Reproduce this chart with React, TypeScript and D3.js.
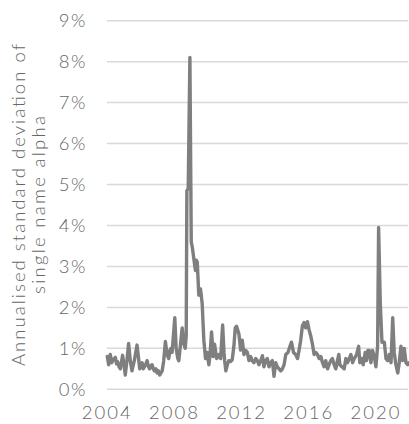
import React from "react";
import * as d3 from "d3";

const dates: number[] = [
  2004.0, 2004.08, 2004.18, 2004.26, 2004.34, 2004.48, 2004.55, 2004.61, 2004.7, 2004.78, 2004.91,
  2005.0, 2005.07, 2005.17, 2005.27, 2005.37, 2005.47, 2005.55, 2005.61, 2005.77, 2005.85, 2005.93,
  2006.0, 2006.07, 2006.14, 2006.21, 2006.3, 2006.37, 2006.45, 2006.52, 2006.6, 2006.67, 2006.74, 2006.81, 2006.9, 2006.97,
  2007.05, 2007.12, 2007.2, 2007.27, 2007.36, 2007.46, 2007.56, 2007.66, 2007.73, 2007.8, 2007.86, 2008.02,
  2008.1, 2008.2, 2008.26, 2008.36, 2008.46, 2008.56, 2008.64, 2008.7, 2008.74, 2008.82, 2008.92,
  2009.0, 2009.07, 2009.15, 2009.25, 2009.3, 2009.36, 2009.45, 2009.55, 2009.65, 2009.75, 2009.85, 2009.95,
  2010.05, 2010.12, 2010.21, 2010.31, 2010.39, 2010.51, 2010.65, 2010.75, 2010.87, 2010.95, 2010.99,
  2011.06, 2011.15, 2011.24, 2011.35, 2011.44, 2011.54, 2011.62, 2011.7, 2011.84, 2011.94,
  2012.04, 2012.14, 2012.24, 2012.34, 2012.44, 2012.54, 2012.63, 2012.73, 2012.84, 2012.94,
  2013.03, 2013.14, 2013.24, 2013.33, 2013.43, 2013.53, 2013.63, 2013.73, 2013.83, 2013.93,
  2014.03, 2014.13, 2014.23, 2014.33, 2014.43, 2014.53, 2014.63, 2014.76, 2014.88, 2014.97,
  2015.09, 2015.22, 2015.33, 2015.42, 2015.52, 2015.62, 2015.72, 2015.82, 2015.92,
  2016.02, 2016.12, 2016.22, 2016.32, 2016.42, 2016.52, 2016.62, 2016.72, 2016.82, 2016.91,
  2017.01, 2017.12, 2017.21, 2017.31, 2017.41, 2017.51, 2017.61, 2017.71, 2017.79, 2017.85, 2017.97,
  2018.11, 2018.21, 2018.31, 2018.41, 2018.51, 2018.61, 2018.71, 2018.85, 2018.97,
  2019.04, 2019.16, 2019.24, 2019.36, 2019.44, 2019.52, 2019.6, 2019.7, 2019.8, 2019.9,
  2020.0, 2020.1, 2020.16, 2020.26, 2020.36, 2020.5, 2020.6, 2020.7, 2020.8, 2020.9,
  2021.0, 2021.09, 2021.19, 2021.3, 2021.39, 2021.49, 2021.59, 2021.69, 2021.79, 2021.89, 2021.97,
];

const alpha: number[] = [
  0.8, 0.6, 0.85, 0.65, 0.72, 0.78, 0.62, 0.68, 0.55, 0.5, 0.83,
  0.6, 0.35, 0.7, 1.12, 0.7, 0.45, 0.6, 0.7, 1.08, 0.8, 0.5,
  0.6, 0.65, 0.5, 0.55, 0.62, 0.7, 0.55, 0.5, 0.58, 0.6, 0.5, 0.45, 0.5, 0.4,
  0.45, 0.35, 0.4, 0.45, 0.7, 1.17, 0.85, 0.75, 0.95, 1.0, 0.9, 1.75,
  1.0, 0.75, 0.7, 1.1, 1.5, 1.1, 1.0, 1.3, 4.85, 4.9, 8.1,
  3.6, 3.45, 3.2, 2.9, 3.15, 3.1, 2.3, 2.45, 2.1, 1.2, 0.75, 0.9,
  0.6, 0.85, 1.4, 0.8, 1.1, 0.75, 0.85, 0.75, 1.57, 0.9, 0.7,
  0.45, 0.6, 0.7, 0.68, 0.72, 1.05, 1.5, 1.54, 1.35, 0.96,
  1.2, 0.85, 0.95, 0.9, 0.7, 0.8, 0.7, 0.65, 0.75, 0.7,
  0.6, 0.7, 0.82, 0.55, 0.7, 0.75, 0.55, 0.65, 0.7, 0.32,
  0.65, 0.55, 0.5, 0.45, 0.5, 0.6, 0.85, 0.9, 1.05, 1.15,
  0.9, 0.85, 0.75, 0.95, 1.2, 1.55, 1.63, 1.5, 1.65,
  1.45, 1.3, 1.1, 0.85, 0.9, 0.85, 0.75, 0.8, 0.65, 0.55,
  0.7, 0.5, 0.6, 0.7, 0.75, 0.6, 0.5, 0.7, 0.85, 0.6, 0.55,
  0.5, 0.75, 0.65, 0.75, 0.85, 0.65, 0.75, 0.85, 1.05,
  0.65, 0.75, 0.6, 0.9, 0.7, 0.95, 0.95, 0.65, 0.95, 0.8,
  0.55, 1.05, 3.95, 2.1, 1.15, 1.15, 0.75, 0.7, 0.85, 0.65,
  1.75, 0.9, 0.6, 0.4, 0.65, 1.05, 0.7, 1.0, 0.65, 0.6, 0.65,
];

const yTicks: number[] = [0, 1, 2, 3, 4, 5, 6, 7, 8, 9];
const xTicks: number[] = [2004, 2008, 2012, 2016, 2020];
const titleLines: string[] = ["Annualised standard deviation of", "single name alpha"];
const titleWidths: number[] = [322, 178];

const W = 409;
const H = 424;
const FONT = "Lato, 'Open Sans', sans-serif";

export default function App() {
  const x = d3.scaleLinear().domain([2004, 2022]).range([107.3, 409.5]);
  const y = d3.scaleLinear().domain([0, 9]).range([389.3, 20.7]);
  const pts = dates.map((d, i) => [d, alpha[i]] as [number, number]);
  const line = d3
    .line<[number, number]>()
    .x((d) => x(d[0]))
    .y((d) => y(d[1]));

  return (
    <svg
      width={W}
      height={H}
      style={{ position: "absolute", left: 0, top: 0, background: "#fff" }}
    >
      {yTicks.map((t) => (
        <g key={t}>
          <line x1={107} x2={408} y1={y(t)} y2={y(t)} stroke="#d9d9d9" strokeWidth={1.5} />
          <text
            x={87}
            y={y(t)}
            dy="0.36em"
            textAnchor="end"
            fontFamily={FONT}
            fontWeight={300}
            fontSize={18.5}
            letterSpacing={1.5}
            fill="#666"
          >
            {t}%
          </text>
        </g>
      ))}
      {xTicks.map((t) => (
        <text
          key={t}
          x={x(t)}
          y={419}
          textAnchor="middle"
          fontFamily={FONT}
          fontWeight={300}
          fontSize={18.5}
          letterSpacing={2}
          fill="#666"
        >
          {t}
        </text>
      ))}
      <g transform="translate(0,205) rotate(-90)">
        {titleLines.map((s, i) => (
          <text
            key={i}
            x={0}
            y={25 + i * 20}
            textAnchor="middle"
            fontFamily={FONT}
            fontWeight={300}
            fontSize={18.5}
            textLength={titleWidths[i]}
            lengthAdjust="spacing"
            fill="#666"
          >
            {s}
          </text>
        ))}
      </g>
      <path
        d={line(pts) || ""}
        fill="none"
        stroke="#7f7f7f"
        strokeWidth={3.4}
        strokeLinejoin="round"
        strokeLinecap="round"
      />
    </svg>
  );
}
